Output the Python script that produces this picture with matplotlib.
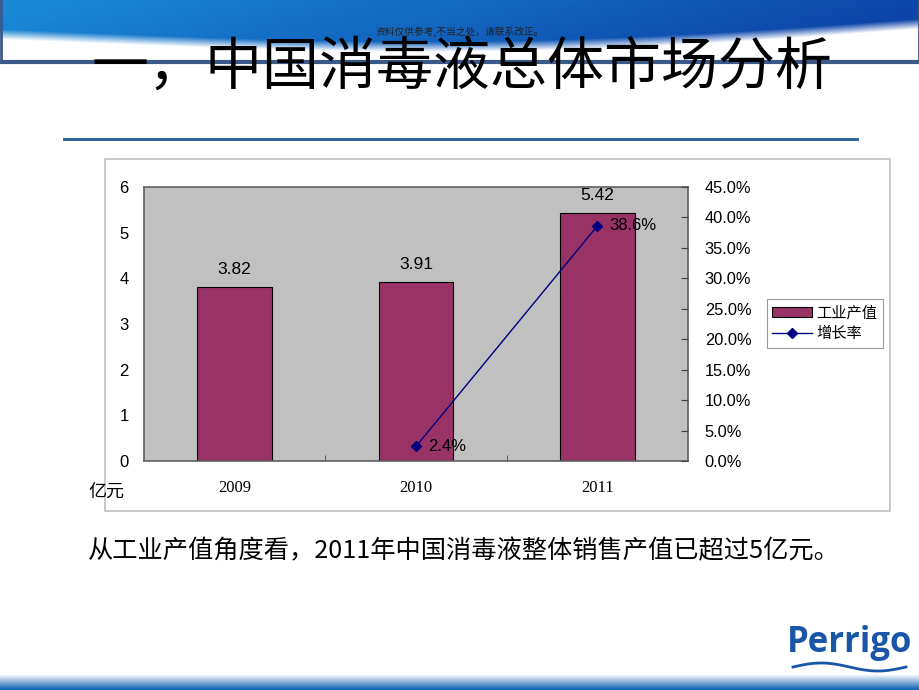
import numpy as np
import matplotlib
matplotlib.use("Agg")
import matplotlib.pyplot as plt
from matplotlib.patches import Rectangle
from matplotlib.lines import Line2D
from matplotlib.ticker import FuncFormatter

plt.rcParams['font.family'] = ['Noto Sans CJK SC', 'DejaVu Sans']

# ---- data ----
years = ['2009', '2010', '2011']
output_value = [3.82, 3.91, 5.42]          # 工业产值 (亿元)
growth_years = ['2010', '2011']
growth_rate = [0.024, 0.386]               # 增长率
growth_labels = ['2.4%', '38.6%']
left_ticks = [0, 1, 2, 3, 4, 5, 6]
right_ticks = [0, 0.05, 0.10, 0.15, 0.20, 0.25, 0.30, 0.35, 0.40, 0.45]

W, H = 920, 690
fig = plt.figure(figsize=(W / 100, H / 100), dpi=100)

def box(l, t, r, b):
    return [l / W, 1 - b / H, (r - l) / W, (b - t) / H]

# ---- background / decoration ----
bg = fig.add_axes([0, 0, 1, 1])
bg.set_xlim(0, W)
bg.set_ylim(H, 0)
bg.axis('off')

# header banner (gradient)
xx = np.linspace(0, 1, 400)
yy = np.linspace(0, 1, 62)
X, Y = np.meshgrid(xx, yy)
wave = 0.55 + 0.25 * np.sin(np.pi * (X * 1.1 - 0.1)) - 0.25 * X
c1 = np.array([0.10, 0.55, 0.85])
c2 = np.array([0.05, 0.25, 0.65])
t = np.clip(X * 0.9 + Y * 0.2, 0, 1)[..., None]
rgb = c1 * (1 - t) + c2 * t
mask = (Y > wave)[..., None]
white = np.ones(3)
fade = np.clip((Y - wave) * 6, 0, 1)[..., None]
rgb = np.where(mask, rgb * (1 - fade) + white * fade, rgb)
bg.imshow(rgb, extent=[0, W, 62, 0], aspect='auto', zorder=0)
bg.plot([0, W], [62, 62], color='#3b5a8a', lw=3, zorder=1)
bg.plot([1, 1], [0, 62], color='#3b5a8a', lw=2, zorder=1)
bg.plot([W - 1, W - 1], [0, 62], color='#3b5a8a', lw=2, zorder=1)

bg.text(460, 32, '资料仅供参考,不当之处，请联系改正。', fontsize=7, ha='center',
        va='center', color='#222222', zorder=2)
bg.text(462, 67, '一，中国消毒液总体市场分析', fontsize=41, ha='center',
        va='center', color='black', zorder=3)
bg.plot([64, 857], [139, 139], color='#1f5a96', lw=2, zorder=2)

# chart frame
bg.add_patch(Rectangle((105, 159), 785, 352, fill=False, ec='#bfbfbf', lw=1.2, zorder=1))

bg.text(88, 492, '亿元', fontsize=13, ha='left', va='center', color='black', zorder=3)
bg.text(88, 551, '从工业产值角度看，2011年中国消毒液整体销售产值已超过5亿元。',
        fontsize=18.2, ha='left', va='center', color='black', zorder=3)

# bottom gradient bar
grad = np.linspace(0, 1, 30)[:, None, None]
bar_rgb = np.ones((30, 10, 3)) * (1 - grad) + np.array([0.05, 0.38, 0.70]) * grad
bg.imshow(bar_rgb, extent=[0, W, 690, 674], aspect='auto', zorder=0)

# logo
bg.text(850, 643, 'Perrigo', fontsize=25, fontweight='bold', ha='center', va='center',
        color='#1a56a8', family=['Open Sans', 'DejaVu Sans'], zorder=3)
sx = np.linspace(793, 906, 50)
sy = 667 - 4 * np.sin((sx - 793) / 113 * 2 * np.pi)
bg.plot(sx, sy, color='#1a56a8', lw=2, zorder=3)

# ---- chart ----
ax = fig.add_axes(box(144, 187, 688, 461))
ax.set_facecolor('#c0c0c0')
x = np.arange(len(years))
ax.bar(x, output_value, width=0.41, color='#993366', edgecolor='black',
       linewidth=0.8, zorder=2, label='工业产值')
for xi, v in zip(x, output_value):
    ax.text(xi, v + 0.22, f'{v:.2f}', ha='center', va='bottom', fontsize=12.5,
            family=['Liberation Sans', 'DejaVu Sans'])
ax.set_xlim(-0.5, 2.5)
ax.set_ylim(0, 6)
ax.set_yticks(left_ticks)
ax.set_xticks(x)
ax.set_xticklabels(years, family=['Liberation Serif', 'DejaVu Serif'], fontsize=12)
ax.set_xticks([0.5, 1.5], minor=True)
ax.tick_params(axis='x', which='major', length=0, pad=14)
ax.tick_params(axis='x', which='minor', direction='in', length=4, color='#404040')
ax.tick_params(axis='y', length=0, pad=11, labelsize=12)
for lab in ax.get_yticklabels():
    lab.set_family(['Liberation Sans', 'DejaVu Sans'])
for sp in ax.spines.values():
    sp.set_color('#606060')
    sp.set_linewidth(1.2)

ax2 = ax.twinx()
gx = [years.index(y) for y in growth_years]
ax2.plot(gx, growth_rate, color='#000080', lw=1, marker='D', markersize=5,
         zorder=3, label='增长率')
for xi, v, s in zip(gx, growth_rate, growth_labels):
    ax2.text(xi + 0.065, v, s, ha='left', va='center', fontsize=12,
             family=['Liberation Sans', 'DejaVu Sans'])
ax2.set_ylim(0, 0.45)
ax2.set_yticks(right_ticks)
ax2.yaxis.set_major_formatter(FuncFormatter(lambda v, p: f'{v * 100:.1f}%'))
ax2.tick_params(axis='y', direction='in', length=5, color='#404040', pad=12, labelsize=11.8)
for lab in ax2.get_yticklabels():
    lab.set_family(['Liberation Sans', 'DejaVu Sans'])
for sp in ax2.spines.values():
    sp.set_visible(False)

handles = [Rectangle((0, 0), 1, 1, fc='#993366', ec='black', lw=0.8),
           Line2D([0], [0], color='#000080', lw=1, marker='D', markersize=5)]
leg = fig.legend(handles, ['工业产值', '增长率'], loc='upper left',
                 bbox_to_anchor=(767 / W, 1 - 299 / H), frameon=True, fancybox=False,
                 edgecolor='#808080', fontsize=11, borderpad=0.35, labelspacing=0.25,
                 handlelength=2.6, handletextpad=0.3, borderaxespad=0)
leg.get_frame().set_linewidth(0.8)

fig.savefig('out.png', dpi=100)
